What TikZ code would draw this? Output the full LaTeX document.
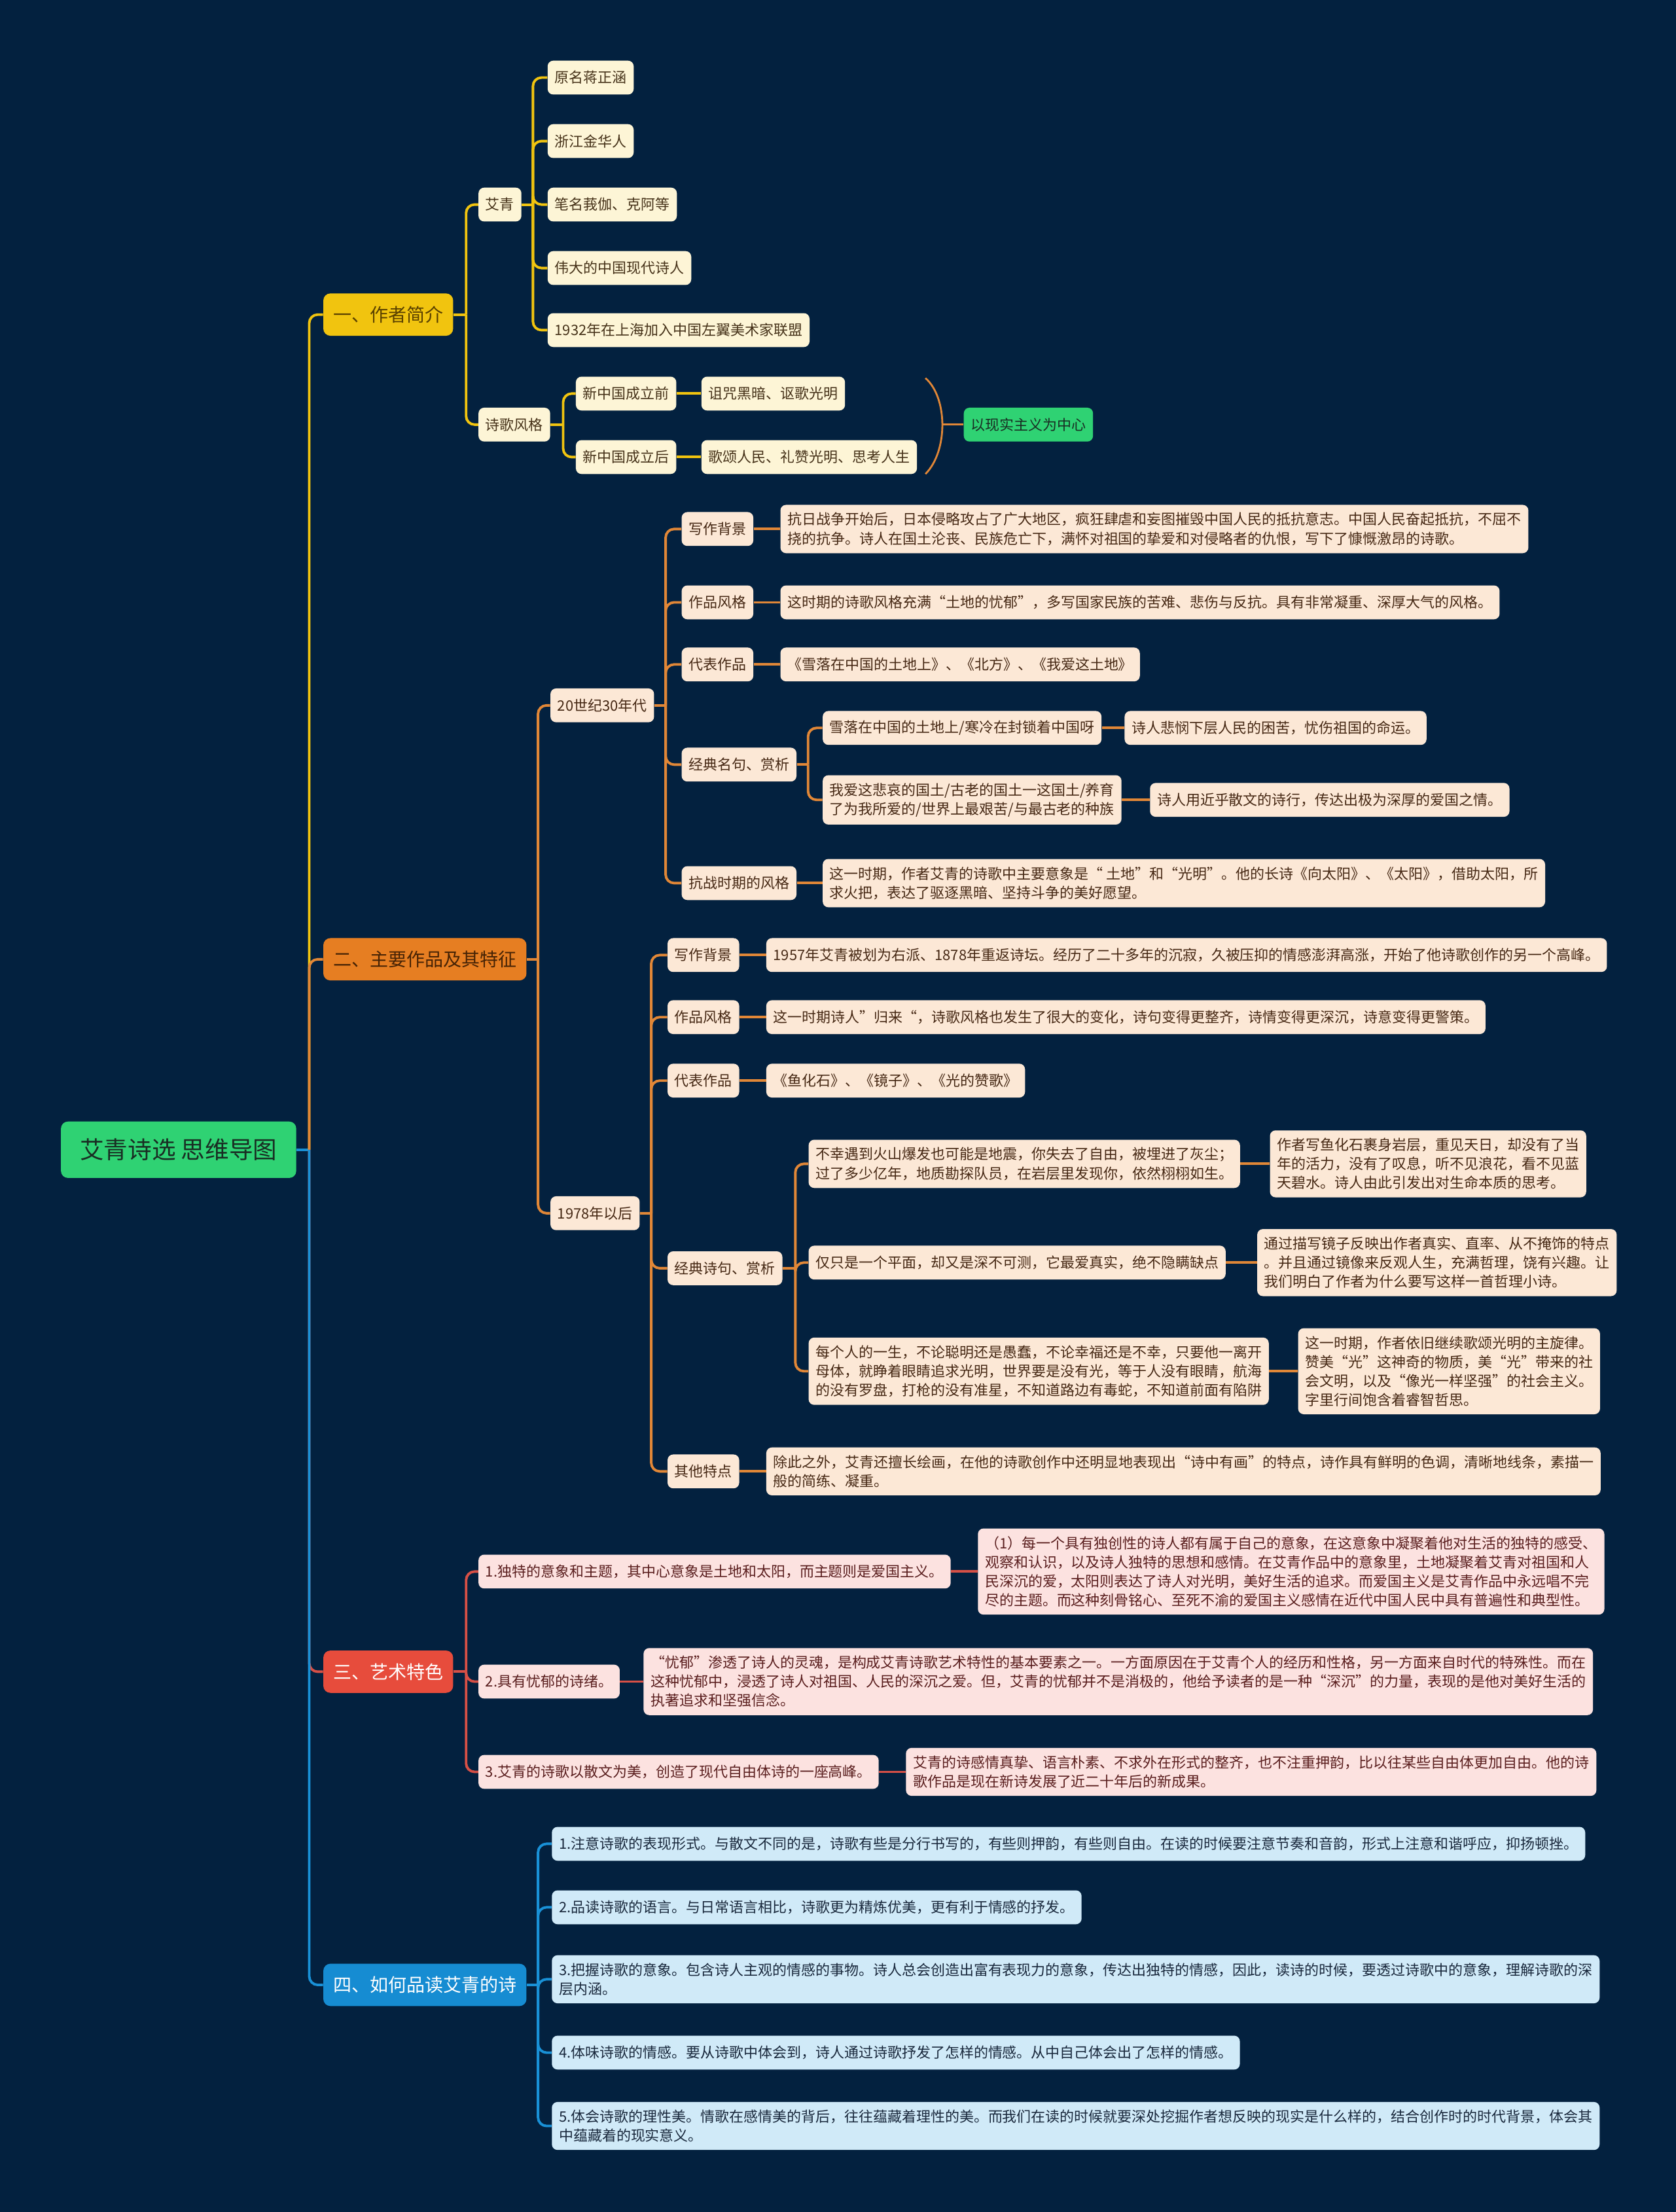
\documentclass[tikz,border=0pt]{standalone}
\usepackage{fontspec}
\setmainfont{Noto Sans CJK SC}
\usetikzlibrary{positioning,calc}
\definecolor{bg}{RGB}{3,33,63}
\definecolor{rootg}{RGB}{47,210,115}
\definecolor{rootink}{RGB}{25,45,35}
\definecolor{secy}{RGB}{241,196,15}
\definecolor{secyink}{RGB}{90,65,0}
\definecolor{seco}{RGB}{230,126,34}
\definecolor{secoink}{RGB}{70,35,5}
\definecolor{secr}{RGB}{231,76,60}
\definecolor{secb}{RGB}{22,140,210}
\definecolor{lny}{RGB}{241,196,15}
\definecolor{lno}{RGB}{225,135,55}
\definecolor{lnr}{RGB}{215,80,70}
\definecolor{lnb}{RGB}{25,145,215}
\definecolor{ycream}{RGB}{253,245,214}
\definecolor{ybrown}{RGB}{70,50,25}
\definecolor{ocream}{RGB}{252,232,214}
\definecolor{obrown}{RGB}{70,40,20}
\definecolor{rpink}{RGB}{252,226,224}
\definecolor{rbrown}{RGB}{90,30,30}
\definecolor{bsky}{RGB}{208,234,248}
\definecolor{bnavy}{RGB}{25,40,60}
\tikzset{
  root/.style={fill=rootg,text=rootink,rounded corners=5pt,font=\fontsize{17}{20}\selectfont,minimum height=40pt,inner xsep=13.5pt,anchor=west},
  sec/.style={rounded corners=5pt,font=\fontsize{13}{16}\selectfont,minimum height=30pt,inner xsep=7pt,anchor=west},
  itm/.style={rounded corners=4pt,font=\fontsize{10.2}{13.5}\selectfont,minimum height=24pt,inner xsep=5pt,inner ysep=5.5pt,align=left,anchor=west},
  yi/.style={itm,fill=ycream,text=ybrown},
  oi/.style={itm,fill=ocream,text=obrown},
  ri/.style={itm,fill=rpink,text=rbrown},
  bi/.style={itm,fill=bsky,text=bnavy},
  gi/.style={itm,fill=rootg,text=rootink},
  link/.style={line width=1.8pt,rounded corners=6pt},
  brace/.style={line width=1.3pt,draw=lno}
}
\begin{document}
\begin{tikzpicture}[x=1pt,y=-1pt]
\fill[bg] (0,0) rectangle (1188,1568);
\useasboundingbox (0,0) rectangle (1188,1568);

% root and main branches
\node[root] (root) at (43,815) {艾青诗选 思维导图};
\node[sec,fill=secy,text=secyink] (intro) at (229,223) {一、作者简介};
\node[sec,fill=seco,text=secoink] (works) at (229,680) {二、主要作品及其特征};
\node[sec,fill=secr,text=white] (art) at (229,1185) {三、艺术特色};
\node[sec,fill=secb,text=white] (read) at (229,1407) {四、如何品读艾青的诗};
\draw[link,lnb] (root.east) -- ++(9,0) coordinate (rootj);
\foreach \n/\col in {intro/lny,works/lno,art/lnr,read/lnb}
  \draw[link,\col] (rootj) |- (\n.west);

% 一、作者简介
\node[yi] (aiq) at (339,145) {艾青};
\node[yi] (style) at (339,301) {诗歌风格};
\draw[link,lny] (intro.east) -- ++(9,0) coordinate (introj);
\foreach \n in {aiq,style} \draw[link,lny] (introj) |- (\n.west);
\node[yi] (aq1) at (388,55) {原名蒋正涵};
\node[yi] (aq2) at (388,100) {浙江金华人};
\node[yi] (aq3) at (388,145) {笔名莪伽、克阿等};
\node[yi] (aq4) at (388,190) {伟大的中国现代诗人};
\node[yi] (aq5) at (388,234) {1932年在上海加入中国左翼美术家联盟};
\draw[link,lny] (aiq.east) -- ++(8,0) coordinate (aiqj);
\foreach \i in {1,...,5} \draw[link,lny] (aiqj) |- (aq\i.west);
\node[yi] (pre) at (408,279) {新中国成立前};
\node[yi] (post) at (408,324) {新中国成立后};
\draw[link,lny] (style.east) -- ++(9,0) coordinate (stylej);
\foreach \n in {pre,post} \draw[link,lny] (stylej) |- (\n.west);
\node[yi] (prel) at (497,279) {诅咒黑暗、讴歌光明};
\node[yi] (postl) at (497,324) {歌颂人民、礼赞光明、思考人生};
\draw[link,lny] (pre) -- (prel);
\draw[link,lny] (post) -- (postl);
\coordinate (brt) at (656,268);
\coordinate (brb) at (656,336);
\coordinate (brm) at (668,301);
\node[gi] (real) at (683,301) {以现实主义为中心};
\draw[brace] (brt) .. controls (672,282) and (672,320) .. (brb);
\draw[brace] (brm) -- (real.west);

% 二、主要作品及其特征
\node[oi] (d30) at (390,500) {20世纪30年代};
\node[oi] (d78) at (390,860) {1978年以后};
\draw[link,lno] (works.east) -- ++(8,0) coordinate (worksj);
\foreach \n in {d30,d78} \draw[link,lno] (worksj) |- (\n.west);

\node[oi] (ta) at (483,375) {写作背景};
\node[oi] (tb) at (483,427) {作品风格};
\node[oi] (tc) at (483,471) {代表作品};
\node[oi] (td) at (483,542) {经典名句、赏析};
\node[oi] (te) at (483,626) {抗战时期的风格};
\draw[link,lno] (d30.east) -- ++(8,0) coordinate (d30j);
\foreach \n in {ta,tb,tc,td,te} \draw[link,lno] (d30j) |- (\n.west);
\node[oi] (tal) at (553,375) {抗日战争开始后，日本侵略攻占了广大地区，疯狂肆虐和妄图摧毁中国人民的抵抗意志。中国人民奋起抵抗，不屈不\\挠的抗争。诗人在国土沦丧、民族危亡下，满怀对祖国的挚爱和对侵略者的仇恨，写下了慷慨激昂的诗歌。};
\node[oi] (tbl) at (553,427) {这时期的诗歌风格充满“土地的忧郁”，多写国家民族的苦难、悲伤与反抗。具有非常凝重、深厚大气的风格。};
\node[oi] (tcl) at (553,471) {《雪落在中国的土地上》、《北方》、《我爱这土地》};
\node[oi] (td1) at (583,516) {雪落在中国的土地上/寒冷在封锁着中国呀};
\node[oi] (td2) at (583,567) {我爱这悲哀的国土/古老的国土一这国土/养育\\了为我所爱的/世界上最艰苦/与最古老的种族};
\node[oi] (td1l) at (797,516) {诗人悲悯下层人民的困苦，忧伤祖国的命运。};
\node[oi] (td2l) at (815,567) {诗人用近乎散文的诗行，传达出极为深厚的爱国之情。};
\node[oi] (tel) at (583,626) {这一时期，作者艾青的诗歌中主要意象是“ 土地”和“光明”。他的长诗《向太阳》、《太阳》，借助太阳，所\\求火把，表达了驱逐黑暗、坚持斗争的美好愿望。};
\foreach \a/\b in {ta/tal,tb/tbl,tc/tcl,te/tel,td1/td1l,td2/td2l}
  \draw[link,lno] (\a) -- (\b);
\draw[link,lno] (td.east) -- ++(8,0) coordinate (tdj);
\foreach \n in {td1,td2} \draw[link,lno] (tdj) |- (\n.west);

\node[oi] (ua) at (473,677) {写作背景};
\node[oi] (ub) at (473,721) {作品风格};
\node[oi] (uc) at (473,766) {代表作品};
\node[oi] (ud) at (473,899) {经典诗句、赏析};
\node[oi] (ue) at (473,1043) {其他特点};
\draw[link,lno] (d78.east) -- ++(8,0) coordinate (d78j);
\foreach \n in {ua,ub,uc,ud,ue} \draw[link,lno] (d78j) |- (\n.west);
\node[oi] (ual) at (543,677) {1957年艾青被划为右派、1878年重返诗坛。经历了二十多年的沉寂，久被压抑的情感澎湃高涨，开始了他诗歌创作的另一个高峰。};
\node[oi] (ubl) at (543,721) {这一时期诗人”归来“，诗歌风格也发生了很大的变化，诗句变得更整齐，诗情变得更深沉，诗意变得更警策。};
\node[oi] (ucl) at (543,766) {《鱼化石》、《镜子》、《光的赞歌》};
\node[oi] (ud1) at (573,825) {不幸遇到火山爆发也可能是地震，你失去了自由，被埋进了灰尘；\\过了多少亿年，地质勘探队员，在岩层里发现你，依然栩栩如生。};
\node[oi] (ud2) at (573,895) {仅只是一个平面，却又是深不可测，它最爱真实，绝不隐瞒缺点};
\node[oi] (ud3) at (573,972) {每个人的一生，不论聪明还是愚蠢，不论幸福还是不幸，只要他一离开\\母体，就睁着眼睛追求光明，世界要是没有光，等于人没有眼睛，航海\\的没有罗盘，打枪的没有准星，不知道路边有毒蛇，不知道前面有陷阱};
\node[oi] (ud1l) at (900,825) {作者写鱼化石裹身岩层，重见天日，却没有了当\\年的活力，没有了叹息，听不见浪花，看不见蓝\\天碧水。诗人由此引发出对生命本质的思考。};
\node[oi] (ud2l) at (891,895) {通过描写镜子反映出作者真实、直率、从不掩饰的特点\\。并且通过镜像来反观人生，充满哲理，饶有兴趣。让\\我们明白了作者为什么要写这样一首哲理小诗。};
\node[oi] (ud3l) at (920,972) {这一时期，作者依旧继续歌颂光明的主旋律。\\赞美“光”这神奇的物质，美“光”带来的社\\会文明，以及“像光一样坚强”的社会主义。\\字里行间饱含着睿智哲思。};
\node[oi] (uel) at (543,1043) {除此之外，艾青还擅长绘画，在他的诗歌创作中还明显地表现出“诗中有画”的特点，诗作具有鲜明的色调，清晰地线条，素描一\\般的简练、凝重。};
\foreach \a/\b in {ua/ual,ub/ubl,uc/ucl,ue/uel,ud1/ud1l,ud2/ud2l,ud3/ud3l}
  \draw[link,lno] (\a) -- (\b);
\draw[link,lno] (ud.east) -- ++(9,0) coordinate (udj);
\foreach \n in {ud1,ud2,ud3} \draw[link,lno] (udj) |- (\n.west);

% 三、艺术特色
\node[ri] (ra) at (339,1114) {1.独特的意象和主题，其中心意象是土地和太阳，而主题则是爱国主义。};
\node[ri] (rb) at (339,1192) {2.具有忧郁的诗绪。};
\node[ri] (rc) at (339,1256) {3.艾青的诗歌以散文为美，创造了现代自由体诗的一座高峰。};
\draw[link,lnr] (art.east) -- ++(9,0) coordinate (artj);
\foreach \n in {ra,rb,rc} \draw[link,lnr] (artj) |- (\n.west);
\node[ri] (ral) at (693,1114) {（1）每一个具有独创性的诗人都有属于自己的意象，在这意象中凝聚着他对生活的独特的感受、\\观察和认识，以及诗人独特的思想和感情。在艾青作品中的意象里，土地凝聚着艾青对祖国和人\\民深沉的爱，太阳则表达了诗人对光明，美好生活的追求。而爱国主义是艾青作品中永远唱不完\\尽的主题。而这种刻骨铭心、至死不渝的爱国主义感情在近代中国人民中具有普遍性和典型性。};
\node[ri] (rbl) at (456,1192) {“忧郁”渗透了诗人的灵魂，是构成艾青诗歌艺术特性的基本要素之一。一方面原因在于艾青个人的经历和性格，另一方面来自时代的特殊性。而在\\这种忧郁中，浸透了诗人对祖国、人民的深沉之爱。但，艾青的忧郁并不是消极的，他给予读者的是一种“深沉”的力量，表现的是他对美好生活的\\执著追求和坚强信念。};
\node[ri] (rcl) at (642,1256) {艾青的诗感情真挚、语言朴素、不求外在形式的整齐，也不注重押韵，比以往某些自由体更加自由。他的诗\\歌作品是现在新诗发展了近二十年后的新成果。};
\foreach \a/\b in {ra/ral,rb/rbl,rc/rcl}
  \draw[link,lnr] (\a) -- (\b);

% 四、如何品读艾青的诗
\node[bi] (q1) at (391,1307) {1.注意诗歌的表现形式。与散文不同的是，诗歌有些是分行书写的，有些则押韵，有些则自由。在读的时候要注意节奏和音韵，形式上注意和谐呼应，抑扬顿挫。};
\node[bi] (q2) at (391,1352) {2.品读诗歌的语言。与日常语言相比，诗歌更为精炼优美，更有利于情感的抒发。};
\node[bi] (q3) at (391,1403) {3.把握诗歌的意象。包含诗人主观的情感的事物。诗人总会创造出富有表现力的意象，传达出独特的情感，因此，读诗的时候，要透过诗歌中的意象，理解诗歌的深\\层内涵。};
\node[bi] (q4) at (391,1455) {4.体味诗歌的情感。要从诗歌中体会到，诗人通过诗歌抒发了怎样的情感。从中自己体会出了怎样的情感。};
\node[bi] (q5) at (391,1507) {5.体会诗歌的理性美。情歌在感情美的背后，往往蕴藏着理性的美。而我们在读的时候就要深处挖掘作者想反映的现实是什么样的，结合创作时的时代背景，体会其\\中蕴藏着的现实意义。};
\draw[link,lnb] (read.east) -- ++(8,0) coordinate (readj);
\foreach \i in {1,...,5} \draw[link,lnb] (readj) |- (q\i.west);
\end{tikzpicture}
\end{document}
